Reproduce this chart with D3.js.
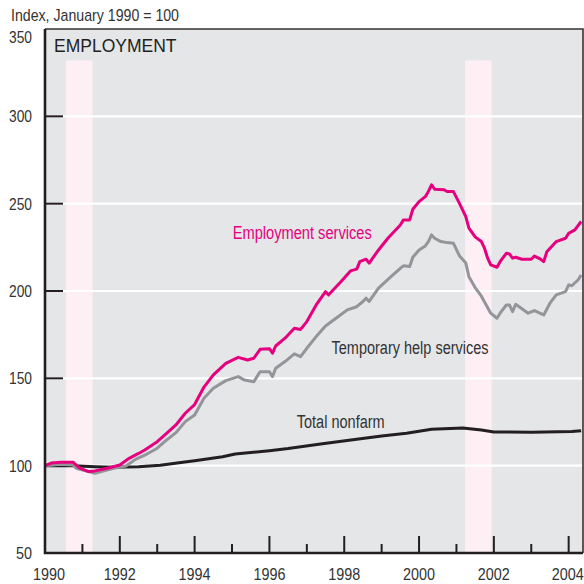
<!DOCTYPE html>
<html>
<head>
<meta charset="utf-8">
<script src="https://cdn.jsdelivr.net/npm/d3@7"></script>
<style>
  body { margin: 0; background: #fff; }
  svg text { font-family: "Liberation Sans Narrow", "Arial Narrow", "Liberation Sans", sans-serif; font-stretch: condensed; }
</style>
</head>
<body>
<svg id="chart" width="584" height="584"></svg>
<script>
// Data (index, January 1990 = 100)

const employmentServices = [
    ['1990-01', 100], ['1990-03', 101.5], ['1990-06', 102], ['1990-10', 102], ['1990-12', 98.7],
    ['1991-03', 96.6], ['1991-05', 97], ['1991-09', 98.5], ['1992-01', 100.4], ['1992-04', 104.2],
    ['1992-07', 107], ['1992-09', 109], ['1993-01', 113.7], ['1993-04', 118.5], ['1993-07', 123.3],
    ['1993-10', 130], ['1994-01', 135], ['1994-04', 145], ['1994-07', 152], ['1994-11', 158.6],
    ['1995-03', 162], ['1995-06', 160.5], ['1995-08', 161.5], ['1995-10', 166.6], ['1996-01', 167],
    ['1996-02', 164.4], ['1996-03', 168.5], ['1996-06', 173], ['1996-09', 178.7], ['1996-11', 178],
    ['1997-01', 182.5], ['1997-04', 192], ['1997-07', 199.6], ['1997-08', 197.8], ['1997-12', 205.4],
    ['1998-03', 211.5], ['1998-05', 212.5], ['1998-06', 216.8], ['1998-08', 218.2], ['1998-09', 216],
    ['1998-12', 223.5], ['1999-03', 230.2], ['1999-07', 237.8], ['1999-08', 240.7], ['1999-10', 240.7],
    ['1999-11', 246.8], ['2000-01', 251.2], ['2000-03', 254], ['2000-04', 257], ['2000-05', 260.8],
    ['2000-06', 258.3], ['2000-09', 258], ['2000-10', 257], ['2000-12', 257], ['2001-02', 250],
    ['2001-04', 242.6], ['2001-05', 236], ['2001-07', 231], ['2001-09', 228.3], ['2001-10', 224.5],
    ['2001-11', 218.8], ['2001-12', 215], ['2002-02', 213.6], ['2002-03', 216.8], ['2002-05', 221.6],
    ['2002-06', 221.2], ['2002-07', 218.8], ['2002-08', 219.3], ['2002-10', 218.2], ['2003-01', 218.2],
    ['2003-02', 220], ['2003-04', 218.2], ['2003-05', 216.8], ['2003-06', 222.5], ['2003-08', 226.4],
    ['2003-09', 228.3], ['2003-12', 230.2], ['2004-01', 233], ['2004-03', 235], ['2004-05', 239.8]
];

const temporaryHelp = [
    ['1990-01', 100], ['1990-06', 100.8], ['1990-10', 100.4], ['1990-11', 98.5], ['1991-02', 97],
    ['1991-05', 95.6], ['1991-08', 97], ['1991-11', 98.5], ['1992-03', 99.8], ['1992-06', 103.6],
    ['1992-09', 106], ['1993-01', 110], ['1993-04', 114.7], ['1993-07', 118.9], ['1993-10', 125.2],
    ['1994-01', 129], ['1994-04', 138.6], ['1994-07', 144.3], ['1994-11', 148.7], ['1995-03', 151],
    ['1995-05', 149], ['1995-08', 148.1], ['1995-10', 153.8], ['1996-01', 153.8], ['1996-02', 151],
    ['1996-03', 155.8], ['1996-06', 159.6], ['1996-09', 164], ['1996-11', 162.4], ['1997-01', 167.2],
    ['1997-04', 173.9], ['1997-07', 180], ['1997-11', 185.3], ['1998-02', 189.2], ['1998-05', 191],
    ['1998-07', 194], ['1998-08', 195.9], ['1998-09', 194], ['1998-12', 201.6], ['1999-04', 208.2],
    ['1999-07', 213], ['1999-08', 214.4], ['1999-10', 214], ['1999-11', 219.3], ['2000-01', 223.5],
    ['2000-03', 225.8], ['2000-04', 228.3], ['2000-05', 232.1], ['2000-06', 230.2], ['2000-08', 228.3],
    ['2000-10', 227.7], ['2000-12', 227.4], ['2001-02', 220], ['2001-04', 216], ['2001-05', 208.2],
    ['2001-07', 202], ['2001-09', 197], ['2001-12', 187.3], ['2002-02', 184.4], ['2002-03', 187.3],
    ['2002-05', 192], ['2002-06', 192], ['2002-07', 188.2], ['2002-08', 192.4], ['2002-12', 187.3],
    ['2003-02', 188.8], ['2003-05', 186.3], ['2003-07', 193], ['2003-09', 197.8], ['2003-12', 199.6],
    ['2004-01', 203.5], ['2004-02', 203], ['2004-04', 206.3], ['2004-05', 209.2]
];

const totalNonfarm = [
    ['1990-01', 100], ['1990-10', 100], ['1991-05', 99.4], ['1991-11', 99.1], ['1992-07', 99.4],
    ['1993-02', 100.2], ['1993-08', 101.7], ['1994-01', 102.8], ['1994-10', 105.1], ['1995-02', 106.7],
    ['1996-01', 108.6], ['1996-07', 109.8], ['1997-06', 112.5], ['1998-05', 115.1], ['1999-01', 117],
    ['1999-09', 118.5], ['2000-05', 120.8], ['2001-03', 121.6], ['2001-09', 120.4], ['2002-01', 119.3],
    ['2003-01', 119.1], ['2004-02', 119.5], ['2004-05', 120]
];

// recessions (shaded), as decimal years
const recessions = [[1990.56, 1991.27], [2001.23, 2001.94]];

const yTicks = [50, 100, 150, 200, 250, 300, 350];
const xYears = d3.range(1990, 2005);
const xLabels = [1990, 1992, 1994, 1996, 1998, 2000, 2002, 2004];

// helpers
function toYear(s) {
    const parts = s.split('-');
    return +parts[0] + (+parts[1] - 1) / 12;
}

const svg = d3.select('#chart');

const x = d3.scaleLinear().domain([1990, 2004.41]).range([45, 584]);
const y = d3.scaleLinear().domain([50, 350]).range([553, 29]);

const plotLeft = 45, plotRight = 583, plotTop = 29, plotBottom = 553;

// plot background
svg.append('rect')
    .attr('x', plotLeft).attr('y', plotTop)
    .attr('width', plotRight - plotLeft).attr('height', plotBottom - plotTop)
    .attr('fill', '#e4e6e8');

// recession bars
svg.selectAll('.recession')
    .data(recessions)
    .enter()
    .append('rect')
    .attr('class', 'recession')
    .attr('x', d => x(d[0]))
    .attr('width', d => x(d[1]) - x(d[0]))
    .attr('y', y(332))
    .attr('height', plotBottom - y(332))
    .attr('fill', '#fdeff4');

// white gridlines
svg.selectAll('.grid')
    .data(yTicks.filter(v => v > 50 && v < 350))
    .enter()
    .append('line')
    .attr('x1', plotLeft).attr('x2', plotRight)
    .attr('y1', d => y(d)).attr('y2', d => y(d))
    .attr('stroke', '#fff')
    .attr('stroke-width', 2.2);

// y tick marks (inside)
svg.selectAll('.ytick')
    .data(yTicks.filter(v => v > 50 && v < 350))
    .enter()
    .append('line')
    .attr('x1', plotLeft).attr('x2', plotLeft + 18)
    .attr('y1', d => y(d)).attr('y2', d => y(d))
    .attr('stroke', '#231f20')
    .attr('stroke-width', 2);

// x tick marks (inside, long on even years)
svg.selectAll('.xtick')
    .data(xYears.filter(v => v > 1990))
    .enter()
    .append('line')
    .attr('x1', d => x(d)).attr('x2', d => x(d))
    .attr('y1', plotBottom)
    .attr('y2', d => plotBottom - (d % 2 === 0 ? 17 : 9))
    .attr('stroke', '#231f20')
    .attr('stroke-width', 2);

// lines
const line = d3.line()
    .x(d => x(toYear(d[0])))
    .y(d => y(d[1]));

const series = [
    { data: totalNonfarm, color: '#231f20' },
    { data: temporaryHelp, color: '#939598' },
    { data: employmentServices, color: '#e6007e' }
];

series.forEach(s => {
    svg.append('path')
        .datum(s.data)
        .attr('d', line)
        .attr('fill', 'none')
        .attr('stroke', s.color)
        .attr('stroke-width', 3)
        .attr('stroke-linejoin', 'round');
});

// frame
svg.append('path')
    .attr('d', `M${plotLeft},${plotTop}H${plotRight}V${plotBottom}`)
    .attr('fill', 'none')
    .attr('stroke', '#333')
    .attr('stroke-width', 1.6);

svg.append('path')
    .attr('d', `M${plotLeft},${plotTop}V${plotBottom}H${plotRight}`)
    .attr('fill', 'none')
    .attr('stroke', '#231f20')
    .attr('stroke-width', 2.6);

// fit text to a width
function fit(sel, w) {
    sel.attr('textLength', w).attr('lengthAdjust', 'spacingAndGlyphs');
}

// y labels
svg.selectAll('.ylabel')
    .data(yTicks)
    .enter()
    .append('text')
    .attr('x', 32)
    .attr('y', d => (d === 350 ? y(d) + 14 : y(d) + 6))
    .attr('text-anchor', 'end')
    .attr('font-size', 17)
    .attr('fill', '#333')
    .text(d => d)
    .each(function (d) { fit(d3.select(this), d < 100 ? 16 : 23); });

// x labels
svg.selectAll('.xlabel')
    .data(xLabels)
    .enter()
    .append('text')
    .attr('x', d => (d === 1990 ? x(d) + 4 : (d === 2004 ? x(d) - 1 : x(d))))
    .attr('y', 580)
    .attr('text-anchor', 'middle')
    .attr('font-size', 17)
    .attr('fill', '#333')
    .text(d => d)
    .each(function () { fit(d3.select(this), 32); });

// titles
fit(svg.append('text')
    .attr('x', 11).attr('y', 21)
    .attr('font-size', 17)
    .attr('fill', '#333')
    .text('Index, January 1990 = 100'), 168);

svg.append('text')
    .attr('x', 54).attr('y', 52)
    .attr('font-size', 17.5)
    .attr('fill', '#231f20')
    .style('font-family', '"Liberation Sans", Arial, sans-serif')
    .style('font-stretch', 'normal')
    .text('EMPLOYMENT');

// series labels
fit(svg.append('text')
    .attr('x', x(1995.02)).attr('y', y(229.5))
    .attr('font-size', 18)
    .attr('fill', '#e6007e')
    .text('Employment services'), 139);

fit(svg.append('text')
    .attr('x', x(1997.66)).attr('y', y(164))
    .attr('font-size', 18)
    .attr('fill', '#333')
    .text('Temporary help services'), 157);

fit(svg.append('text')
    .attr('x', x(1996.73)).attr('y', y(121.5))
    .attr('font-size', 18)
    .attr('fill', '#333')
    .text('Total nonfarm'), 88);
</script>
</body>
</html>
